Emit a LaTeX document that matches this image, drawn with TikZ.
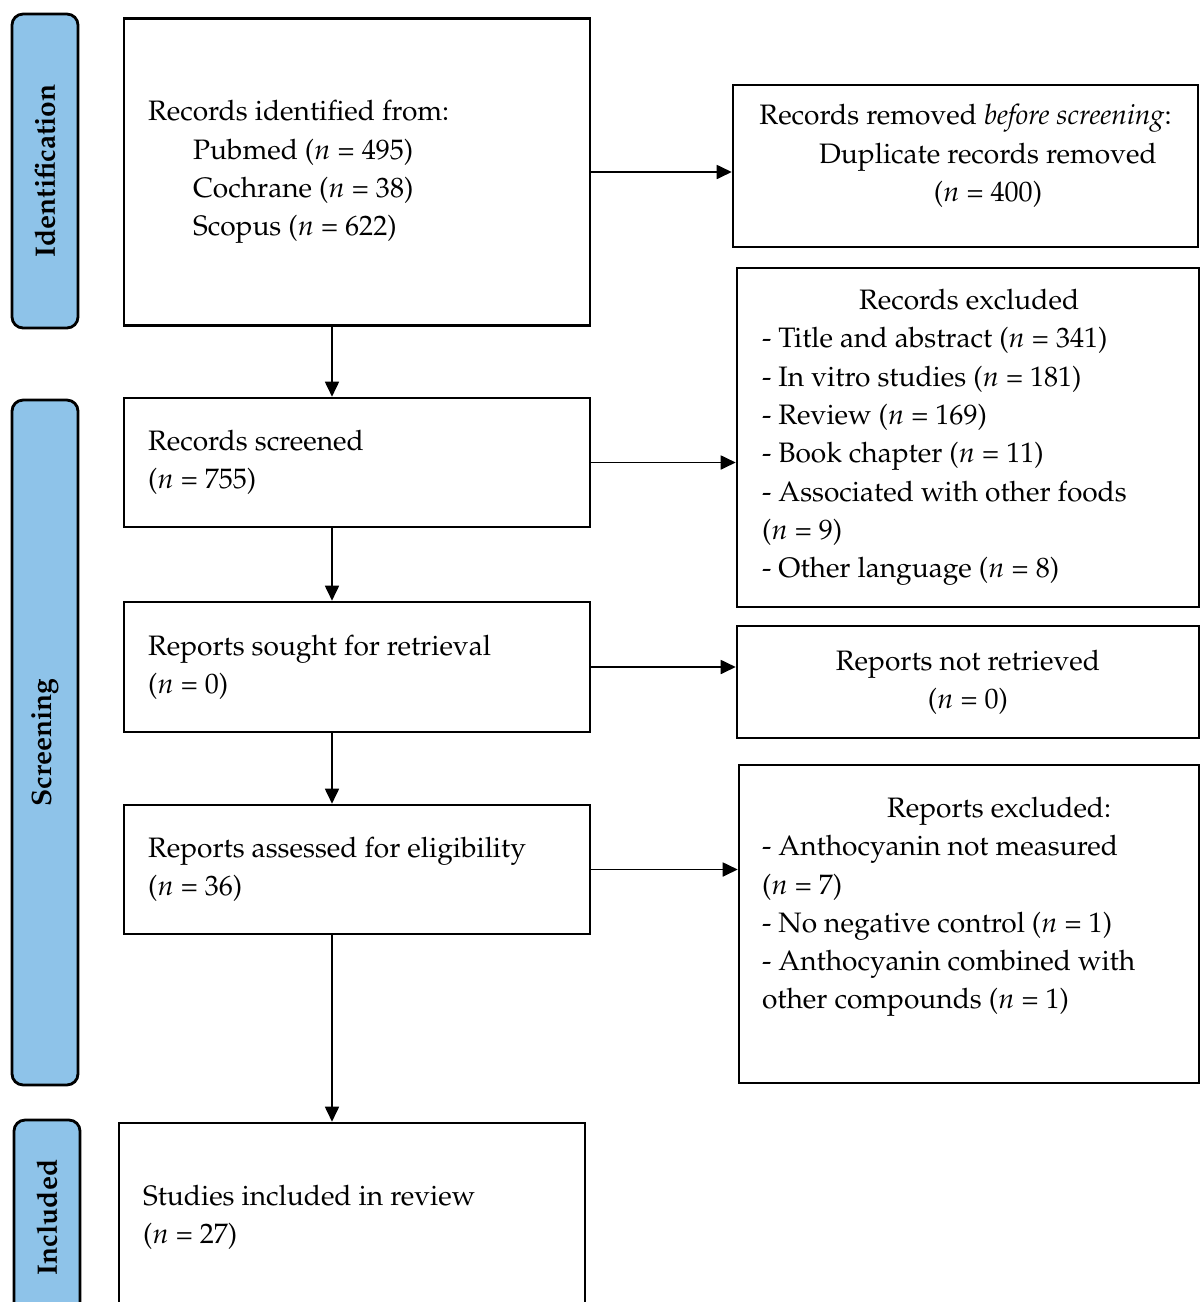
\documentclass[tikz,border=0pt]{standalone}
\usepackage[T1]{fontenc}
\usepackage{mathpazo}
\usetikzlibrary{arrows.meta}
\definecolor{stageblue}{RGB}{142,195,233}
\begin{document}
\begin{tikzpicture}[x=0.02cm,y=-0.02cm,
  stage/.style={draw,line width=1.6pt,fill=stageblue,rounded corners=0.22cm,rotate=90,inner sep=0pt,font=\fontsize{16}{18}\selectfont\bfseries},
  txt/.style={font=\fontsize{16}{21.8}\selectfont},
  box/.style={txt,draw,line width=1.5pt,inner sep=0pt},
  flow/.style={line width=1pt,-{Triangle[length=0.3cm,width=0.28cm]}}]
\useasboundingbox (0,0) rectangle (1201,1302);
\node[stage,minimum width=6.28cm,minimum height=1.32cm] (idstage) at (45,171) {Identification};
\node[stage,minimum width=13.70cm,minimum height=1.32cm] (scstage) at (45,742.5) {Screening};
\node[stage,minimum width=3.9cm,minimum height=1.32cm] (instage) at (47,1217.5) {Included};
\node[box,minimum width=9.32cm,minimum height=6.14cm,text width=8.36cm,align=flush left] (ident) at (357,172)
  {Records identified from:\\ \hspace*{0.9cm}Pubmed ($n$ = 495)\\ \hspace*{0.9cm}Cochrane ($n$ = 38)\\ \hspace*{0.9cm}Scopus ($n$ = 622)};
\node[box,minimum width=9.30cm,minimum height=3.24cm] (removed) at (965.5,166) {};
\node[txt,align=center] (removedtxt) at ([yshift=0.2cm]removed.center)
  {Records removed \textit{before screening}:\\ \hspace*{0.9cm}Duplicate records removed\\ \hspace*{0.9cm}($n$ = 400)};
\node[box,minimum width=9.24cm,minimum height=6.78cm,text width=8.24cm,align=flush left] (excl) at (968,437.5)
  {\hspace*{1.94cm}Records excluded\\ - Title and abstract ($n$ = 341)\\ - In vitro studies ($n$ = 181)\\ - Review ($n$ = 169)\\ - Book chapter ($n$ = 11)\\ - Associated with other foods\\ ($n$ = 9)\\ - Other language ($n$ = 8)};
\node[box,minimum width=9.32cm,minimum height=2.58cm,text width=8.36cm,align=flush left] (screened) at (357,462.5)
  {Records screened\\ ($n$ = 755)};
\node[box,minimum width=9.32cm,minimum height=2.60cm,text width=8.36cm,align=flush left] (sought) at (357,667)
  {Reports sought for retrieval\\ ($n$ = 0)};
\node[box,minimum width=9.24cm,minimum height=2.24cm,align=center] (notret) at (968,682)
  {Reports not retrieved\\ ($n$ = 0)};
\node[box,minimum width=9.32cm,minimum height=2.58cm,text width=8.36cm,align=flush left] (assessed) at (357,869.5)
  {Reports assessed for eligibility\\ ($n$ = 36)};
\node[box,minimum width=9.20cm,minimum height=6.36cm] (repexcl) at (969,924) {};
\node[txt,align=left,anchor=west,inner sep=0pt] (repexcltxt) at ([xshift=0.48cm,yshift=0.34cm]repexcl.west)
  {\hspace*{2.5cm}Reports excluded:\\ - Anthocyanin not measured\\ ($n$ = 7)\\ - No negative control ($n$ = 1)\\ - Anthocyanin combined with\\ other compounds ($n$ = 1)};
\node[box,minimum width=9.32cm,minimum height=3.78cm,text width=8.36cm,align=flush left] (included) at (352,1217.5)
  {Studies included in review\\ ($n$ = 27)};
\coordinate (col) at (332,0);
\draw[flow] (ident.east) -- (ident.east -| removed.west);
\draw[flow] (ident.south -| col) -- (screened.north -| col);
\draw[flow] (screened.east) -- (screened.east -| excl.west);
\draw[flow] (screened.south -| col) -- (sought.north -| col);
\draw[flow] (sought.east) -- (sought.east -| notret.west);
\draw[flow] (sought.south -| col) -- (assessed.north -| col);
\draw[flow] (assessed.east) -- (assessed.east -| repexcl.west);
\draw[flow] (assessed.south -| col) -- (included.north -| col);
\end{tikzpicture}
\end{document}
